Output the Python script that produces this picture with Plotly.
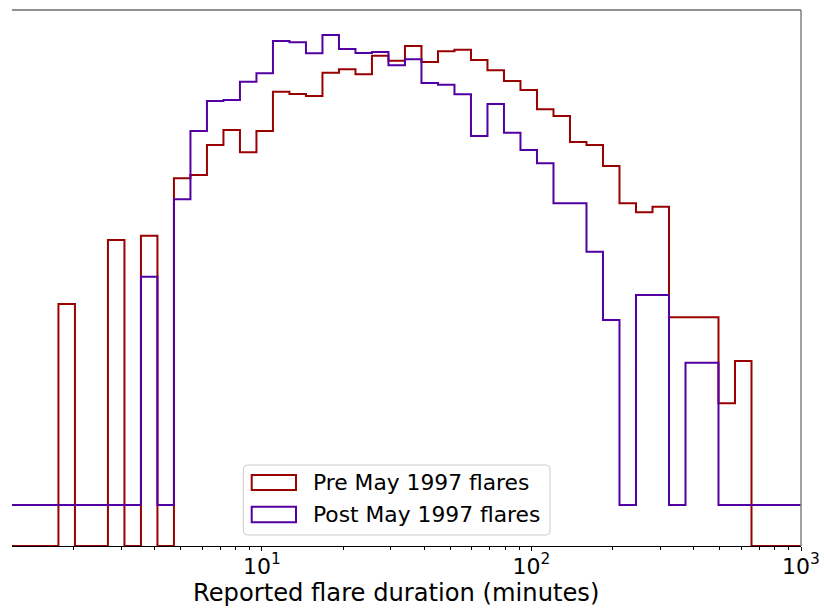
import numpy as np
import plotly.graph_objects as go

# Histogram bin edges (log-spaced, 49 bins from 1 to 1000 minutes)
bin_edges = np.logspace(0, 3, 50)

# Bar heights (arbitrary log-count height units, y axis is unlabeled)
pre_heights = [0, 0, 0, 0, 242, 0, 0, 306, 0, 310.3,
               0, 367.7, 371, 401, 416, 393.7, 415, 454.3, 452, 450,
               473.3, 476.7, 471.7, 490.3, 485.3, 500, 484, 494.7, 496.3, 486,
               475.7, 465, 456, 436.7, 430, 404, 401, 380, 342.7, 333.7,
               339.3, 228.7, 228.7, 228.7, 142.7, 185, 0, 0, 0]
post_heights = [41, 41, 41, 41, 41, 41, 41, 41, 41, 269.3,
                41, 346.7, 415, 445, 446, 464.3, 472.7, 505, 503.7, 492.7,
                511, 497, 493, 494, 480.7, 486.7, 463, 461.3, 451.7, 410,
                442, 413.3, 396, 382.7, 342.7, 342.7, 294.3, 226, 41, 251,
                251, 41, 183.3, 183.3, 41, 41, 41, 41, 41]

series_names = ["Pre May 1997 flares", "Post May 1997 flares"]
series_colors = ["#990000", "#5200a3"]

major_ticks = [10, 100, 1000]
major_labels = ["10<sup>1</sup>", "10<sup>2</sup>", "10<sup>3</sup>"]
minor_ticks = [m * d for d in (1, 10, 100) for m in range(2, 10)]

x_title = "Reported flare duration (minutes)"

W, H = 824, 611
L, R, T, B = 12, 801, 10, 546  # plot area in pixels


def px(xp):
    return (xp - L) / (R - L)


def py(yp):
    return (B - yp) / (B - T)


fig = go.Figure()
for name, vals, col in zip(series_names, [pre_heights, post_heights], series_colors):
    fig.add_trace(go.Scatter(
        x=list(bin_edges), y=list(vals) + [vals[-1]],
        mode="lines", line=dict(shape="hv", color=col, width=2),
        name=name, showlegend=False, hoverinfo="skip"))

shapes = []
# top and right spines
shapes.append(dict(type="line", xref="paper", yref="paper", x0=0, x1=1, y0=1, y1=1,
                   line=dict(color="#222222", width=1.2)))
shapes.append(dict(type="line", xref="paper", yref="paper", x0=1, x1=1, y0=0, y1=1,
                   line=dict(color="#808080", width=1.5)))

# legend frame (rounded rectangle)
lx0, lx1, ly0, ly1, r = 243.3, 550, 465, 535, 4
path = (f"M {px(lx0 + r)} {py(ly0)} L {px(lx1 - r)} {py(ly0)} "
        f"Q {px(lx1)} {py(ly0)} {px(lx1)} {py(ly0 + r)} "
        f"L {px(lx1)} {py(ly1 - r)} Q {px(lx1)} {py(ly1)} {px(lx1 - r)} {py(ly1)} "
        f"L {px(lx0 + r)} {py(ly1)} Q {px(lx0)} {py(ly1)} {px(lx0)} {py(ly1 - r)} "
        f"L {px(lx0)} {py(ly0 + r)} Q {px(lx0)} {py(ly0)} {px(lx0 + r)} {py(ly0)} Z")
shapes.append(dict(type="path", xref="paper", yref="paper", path=path,
                   fillcolor="rgba(255,255,255,0.85)", line=dict(color="#cccccc", width=1)))

annotations = []
patch_rows = [(475, 490, 482.5), (506.7, 522.3, 514.5)]
for (y0, y1, yc), name, col in zip(patch_rows, series_names, series_colors):
    shapes.append(dict(type="rect", xref="paper", yref="paper",
                       x0=px(251.7), x1=px(296), y0=py(y1), y1=py(y0),
                       fillcolor="white", line=dict(color=col, width=2)))
    annotations.append(dict(xref="paper", yref="paper", x=px(311), y=py(yc),
                            xanchor="left", yanchor="middle", showarrow=False,
                            text=name, font=dict(family="DejaVu Sans", size=21.8, color="black")))

annotations.append(dict(xref="paper", yref="paper", x=px(396), y=py(593),
                        xanchor="center", yanchor="middle", showarrow=False,
                        text=x_title, font=dict(family="DejaVu Sans", size=24.2, color="black")))

fig.update_layout(
    width=W, height=H, autosize=False,
    margin=dict(l=L, r=W - R, t=T, b=H - B, pad=0, autoexpand=False),
    paper_bgcolor="white", plot_bgcolor="white",
    shapes=shapes, annotations=annotations,
    font=dict(family="DejaVu Sans", color="black"),
    xaxis=dict(type="log", range=[np.log10(1.182), 3], automargin=False,
               showgrid=False, zeroline=False,
               showline=True, linecolor="black", linewidth=1.2,
               ticks="outside", ticklen=4, tickwidth=1, tickcolor="black",
               tickvals=major_ticks, ticktext=major_labels,
               ticklabelstandoff=-4,
               tickfont=dict(family="DejaVu Sans", size=22, color="black"),
               minor=dict(ticks="outside", ticklen=2.5, tickwidth=1, tickcolor="black",
                          tickvals=minor_ticks, showgrid=False)),
    yaxis=dict(range=[0, B - T], automargin=False, showgrid=False, zeroline=False,
               showline=False, showticklabels=False, ticks=""),
)

fig.write_html("out.html",
               config={"responsive": False, "displayModeBar": False},
               post_script="document.body.style.margin='0';document.body.style.overflow='hidden';")
